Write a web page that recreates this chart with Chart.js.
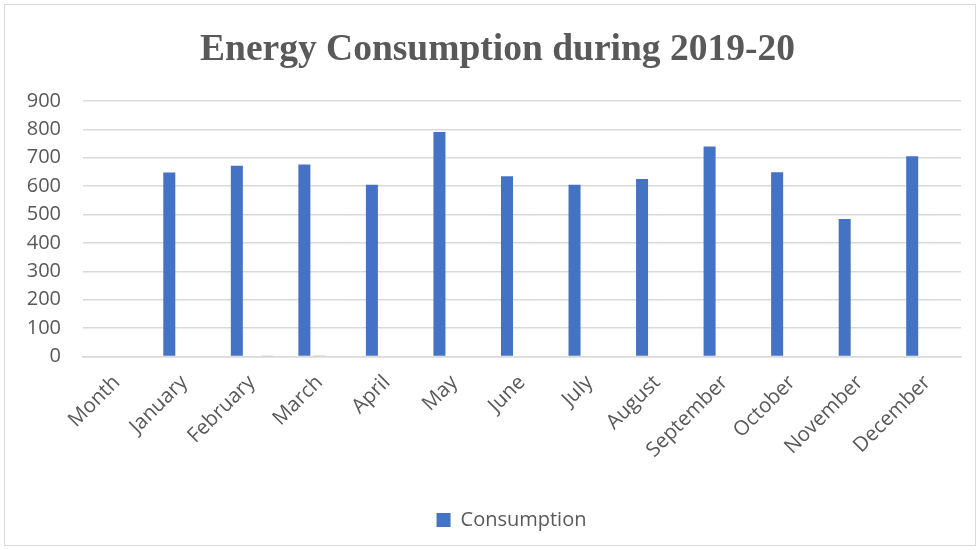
<!DOCTYPE html>
<html>
<head>
<meta charset="utf-8">
<script src="https://cdn.jsdelivr.net/npm/chart.js@4"></script>
<style>
  html, body { margin: 0; padding: 0; background: #fff; }
  #wrap { position: relative; width: 980px; height: 550px; }
  #frame { position: absolute; left: 4px; top: 4px; width: 972px; height: 542px; border: 1px solid #d9d9d9; box-sizing: border-box; }
  canvas { position: absolute; left: 0; top: 0; }
</style>
</head>
<body>
<div id="wrap">
  <div id="frame"></div>
  <canvas id="c" width="980" height="550"></canvas>
</div>
<script>
const categories = ["Month", "January", "February", "March", "April", "May", "June", "July", "August", "September", "October", "November", "December"];
const consumption = [null, 648, 672, 676, 605, 791, 635, 605, 625, 740, 649, 484, 705];
const seriesB = [null, 3, null, 2, null, null, null, null, null, null, null, null, null];
const seriesC = [null, null, 2, 3, null, null, null, null, null, null, null, null, null];
const yTicks = [0, 100, 200, 300, 400, 500, 600, 700, 800, 900];

const txt = '#595959';
Chart.defaults.font.family = "'Open Sans', sans-serif";
Chart.defaults.color = txt;

const shiftBlocks = {
  id: 'shiftBlocks',
  afterLayout(chart) {
    if (chart.titleBlock) { chart.titleBlock.left += 34; }
    if (chart.legend) { chart.legend.left += 62; chart.legend.right += 0; }
  }
};

new Chart(document.getElementById('c'), {
  type: 'bar',
  plugins: [shiftBlocks],
  data: {
    labels: categories,
    datasets: [
      { label: 'Consumption', data: consumption, backgroundColor: '#4472C4', categoryPercentage: 0.667, barPercentage: 0.8 },
      { label: 'B', data: seriesB, backgroundColor: '#ED7D31', categoryPercentage: 0.667, barPercentage: 0.8 },
      { label: 'C', data: seriesC, backgroundColor: '#A5A5A5', categoryPercentage: 0.667, barPercentage: 0.8 }
    ]
  },
  options: {
    responsive: false,
    animation: false,
    layout: { padding: { left: 0, right: 19, top: 0, bottom: 10 } },
    plugins: {
      title: {
        display: true,
        text: 'Energy Consumption during 2019-20',
        color: txt,
        font: { family: "'Liberation Serif', 'Times New Roman', serif", size: 37.5, weight: 'bold' },
        padding: { top: 28, bottom: 28 }
      },
      legend: {
        position: 'bottom',
        labels: {
          filter: (item) => item.text === 'Consumption',
          boxWidth: 14, boxHeight: 14, padding: 10,
          color: txt,
          font: { size: 20 }
        }
      },
      tooltip: { enabled: false }
    },
    scales: {
      x: {
        grid: { display: false, drawTicks: false },
        border: { display: true, color: '#d9d9d9', width: 1.5 },
        ticks: { maxRotation: 45, minRotation: 45, autoSkip: false, padding: 14, color: txt, font: { size: 20.5 } },
        afterFit: (s) => { s.height = 143.5; }
      },
      y: {
        min: 0, max: 900,
        afterBuildTicks: (s) => { s.ticks = yTicks.map(v => ({ value: v })); },
        grid: { color: '#d9d9d9', lineWidth: 1.5, drawTicks: false },
        border: { display: false },
        ticks: { padding: 22, color: txt, font: { size: 20 } },
        afterFit: (s) => { s.width = 83; }
      }
    }
  }
});
</script>
</body>
</html>
